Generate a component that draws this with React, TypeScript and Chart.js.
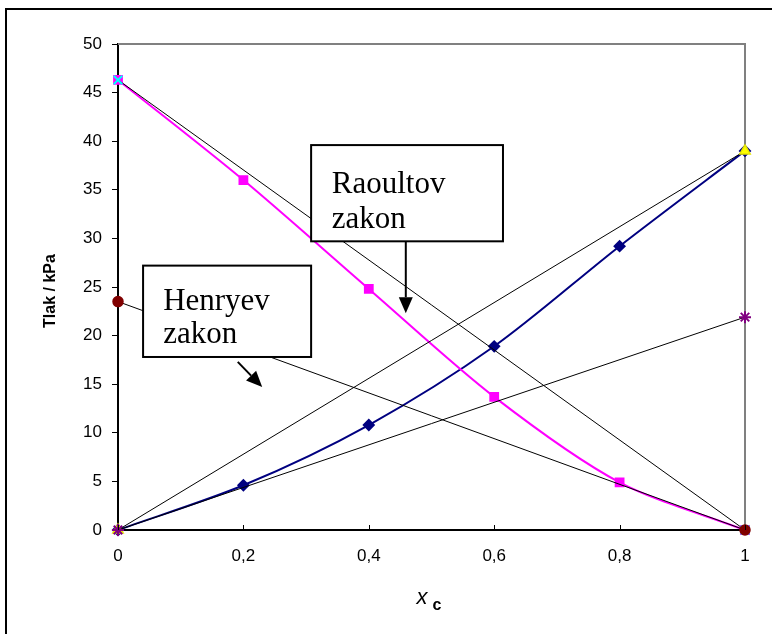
import React, { useEffect, useRef } from 'react';
import { Chart, registerables } from 'chart.js';

Chart.register(...registerables);

// ---- data ----
const xValues = [0, 0.2, 0.4, 0.6, 0.8, 1];
const pressureC = [0, 4.6, 10.8, 18.9, 29.2, 39.0];
const pressureOther = [46.3, 36.0, 24.8, 13.7, 4.9, 0];
const lineX = [0, 1];
const raoultC = [0, 39.0];
const raoultOther = [46.3, 0];
const henryC = [0, 21.9];
const henryOther = [23.5, 0];
const xTickValues = [0, 0.2, 0.4, 0.6, 0.8, 1];
const yMin = 0;
const yMax = 50;
const yStep = 5;
const yTitle = 'Tlak / kPa';
const xTitleMain = 'x';
const xTitleSub = 'c';
const raoultLabel = ['Raoultov', 'zakon'];
const henryLabel = ['Henryev', 'zakon'];

const pts = (xs: number[], ys: number[]) => xs.map((x, i) => ({ x, y: ys[i] }));

const fmtX = (v: number) => {
  const r = Math.round(v * 10) / 10;
  if (r === 0) return '0';
  if (r === 1) return '1';
  return r.toFixed(1).replace('.', ',');
};

const decorPlugin = {
  id: 'decor',
  beforeDraw(chart: any) {
    const ctx = chart.ctx;
    ctx.save();
    ctx.fillStyle = '#ffffff';
    ctx.fillRect(0, 0, chart.width, chart.height);
    ctx.restore();
  },
  beforeDatasetsDraw(chart: any) {
    const ctx = chart.ctx;
    const { left, right, top, bottom } = chart.chartArea;
    ctx.save();
    ctx.strokeStyle = '#808080';
    ctx.lineWidth = 2;
    ctx.beginPath();
    ctx.moveTo(left, top);
    ctx.lineTo(right, top);
    ctx.lineTo(right, bottom);
    ctx.stroke();
    ctx.restore();
  },
  afterDraw(chart: any) {
    const ctx = chart.ctx;
    const { left, right, top, bottom } = chart.chartArea;
    const xs = chart.scales.x;
    const ys = chart.scales.y;
    const px = (v: number) => xs.getPixelForValue(v);
    const py = (v: number) => ys.getPixelForValue(v);
    ctx.save();
    // inward x ticks
    ctx.strokeStyle = '#000000';
    ctx.lineWidth = 1;
    ctx.beginPath();
    xTickValues.forEach((v) => {
      const x = Math.round(px(v)) + 0.5;
      ctx.moveTo(x, bottom);
      ctx.lineTo(x, bottom - 5);
    });
    ctx.stroke();
    // outer frame
    ctx.strokeStyle = '#000000';
    ctx.lineWidth = 2;
    ctx.strokeRect(6, 9, chart.width + 20, chart.height + 20);

    // y title
    ctx.save();
    ctx.translate(55, (top + bottom) / 2 + 4);
    ctx.rotate(-Math.PI / 2);
    ctx.font = 'bold 16px Arial, "Liberation Sans"';
    ctx.fillStyle = '#000';
    ctx.textAlign = 'center';
    ctx.textBaseline = 'alphabetic';
    ctx.fillText(yTitle, 0, 0);
    ctx.restore();

    // x title
    ctx.fillStyle = '#000';
    ctx.textBaseline = 'alphabetic';
    ctx.textAlign = 'left';
    ctx.font = 'italic 22px Arial, "Liberation Sans"';
    const cx = (left + right) / 2;
    ctx.fillText(xTitleMain, cx - 15, 604);
    ctx.font = 'bold 16px Arial, "Liberation Sans"';
    ctx.fillText(xTitleSub, cx + 1, 610);

    // annotation boxes
    const drawBox = (x0: number, y0: number, x1: number, y1: number, lines: string[], tx: number, by: number[]) => {
      const L = px(x0), R = px(x1), T = py(y0), B = py(y1);
      ctx.fillStyle = '#ffffff';
      ctx.fillRect(L, T, R - L, B - T);
      ctx.strokeStyle = '#000';
      ctx.lineWidth = 2;
      ctx.strokeRect(L, T, R - L, B - T);
      ctx.fillStyle = '#000';
      ctx.font = '31px "Liberation Serif", "Times New Roman", serif';
      ctx.textAlign = 'left';
      lines.forEach((s, i) => ctx.fillText(s, px(tx), by[i]));
    };
    const arrow = (x0: number, y0: number, x1: number, y1: number) => {
      const X0 = px(x0), Y0 = py(y0), X1 = px(x1), Y1 = py(y1);
      const ang = Math.atan2(Y1 - Y0, X1 - X0);
      const head = 16, hw = 7;
      const bx = X1 - Math.cos(ang) * head, by = Y1 - Math.sin(ang) * head;
      ctx.strokeStyle = '#000';
      ctx.lineWidth = 2;
      ctx.beginPath();
      ctx.moveTo(X0, Y0);
      ctx.lineTo(bx, by);
      ctx.stroke();
      ctx.fillStyle = '#000';
      ctx.beginPath();
      ctx.moveTo(X1, Y1);
      ctx.lineTo(bx + Math.sin(ang) * hw, by - Math.cos(ang) * hw);
      ctx.lineTo(bx - Math.sin(ang) * hw, by + Math.cos(ang) * hw);
      ctx.closePath();
      ctx.fill();
    };
    drawBox(0.308, 39.6, 0.614, 29.7, raoultLabel, 0.341, [193, 228]);
    arrow(0.459, 29.7, 0.459, 22.3);
    drawBox(0.040, 27.2, 0.308, 17.8, henryLabel, 0.072, [310, 343]);
    arrow(0.191, 17.3, 0.230, 14.7);
    ctx.restore();
  },
};

export default function App() {
  const ref = useRef<HTMLCanvasElement | null>(null);
  useEffect(() => {
    if (!ref.current) return;
    const thin = {
      borderColor: '#000000',
      borderWidth: 1,
      tension: 0,
      pointBorderWidth: 1.5,
      clip: false,
    };
    const chart = new Chart(ref.current, {
      type: 'line',
      data: {
        datasets: [
          {
            label: 'pC',
            data: pts(xValues, pressureC),
            borderColor: '#000080',
            backgroundColor: '#000080',
            borderWidth: 2,
            tension: 0.3,
            pointStyle: 'rectRot',
            pointRadius: 5,
            pointBackgroundColor: '#000080',
            pointBorderColor: '#000080',
            clip: false,
            order: 6,
          },
          {
            label: 'pA',
            data: pts(xValues, pressureOther),
            borderColor: '#FF00FF',
            backgroundColor: '#FF00FF',
            borderWidth: 2,
            tension: 0.3,
            pointStyle: 'rect',
            pointRadius: 5.5,
            pointBackgroundColor: '#FF00FF',
            pointBorderColor: '#FF00FF',
            clip: false,
            order: 5,
          },
          {
            ...thin,
            label: 'Raoult C',
            data: pts(lineX, raoultC),
            pointStyle: 'triangle',
            pointRadius: 6,
            pointBackgroundColor: '#FFFF00',
            pointBorderColor: '#E6E600',
            order: 4,
          },
          {
            ...thin,
            label: 'Raoult A',
            data: pts(lineX, raoultOther),
            pointStyle: 'crossRot',
            pointRadius: 6,
            pointBorderWidth: 2,
            pointBackgroundColor: '#00FFFF',
            pointBorderColor: '#00FFFF',
            order: 3,
          },
          {
            ...thin,
            label: 'Henry C',
            data: pts(lineX, henryC),
            pointStyle: 'star',
            pointRadius: 6,
            pointBorderWidth: 2,
            pointBackgroundColor: '#800080',
            pointBorderColor: '#800080',
            order: 2,
          },
          {
            ...thin,
            label: 'Henry A',
            data: pts(lineX, henryOther),
            pointStyle: 'circle',
            pointRadius: 5,
            pointBackgroundColor: '#800000',
            pointBorderColor: '#800000',
            order: 1,
          },
        ],
      },
      plugins: [decorPlugin],
      options: {
        animation: false,
        responsive: false,
        devicePixelRatio: 1,
        layout: { padding: { top: 44, right: 27, left: 0, bottom: 0 } },
        plugins: { legend: { display: false }, tooltip: { enabled: false } },
        elements: { point: { hoverRadius: 5 } },
        scales: {
          x: {
            type: 'linear',
            min: 0,
            max: 1,
            afterFit: (s: any) => { s.height = 104; },
            afterBuildTicks: (s: any) => { s.ticks = xTickValues.map((v) => ({ value: v })); },
            grid: { display: false, drawTicks: false },
            border: { display: true, color: '#000000', width: 2 },
            ticks: {
              color: '#000000',
              padding: 16,
              maxRotation: 0,
              font: { family: 'Arial, "Liberation Sans"', size: 17 },
              callback: (v: any) => fmtX(Number(v)),
            },
          },
          y: {
            type: 'linear',
            min: yMin,
            max: yMax,
            afterFit: (s: any) => { s.width = 118; },
            grid: { drawOnChartArea: false, drawTicks: true, tickLength: 6, color: '#000000' },
            border: { display: true, color: '#000000', width: 2 },
            ticks: {
              stepSize: yStep,
              color: '#000000',
              padding: 10,
              font: { family: 'Arial, "Liberation Sans"', size: 17 },
            },
          },
        },
      },
    } as any);
    return () => chart.destroy();
  }, []);
  return (
    <div style={{ position: 'fixed', left: 0, top: 0, width: 772, height: 634, background: '#fff' }}>
      <canvas ref={ref} width={772} height={634} style={{ width: 772, height: 634, display: 'block' }} />
    </div>
  );
}
